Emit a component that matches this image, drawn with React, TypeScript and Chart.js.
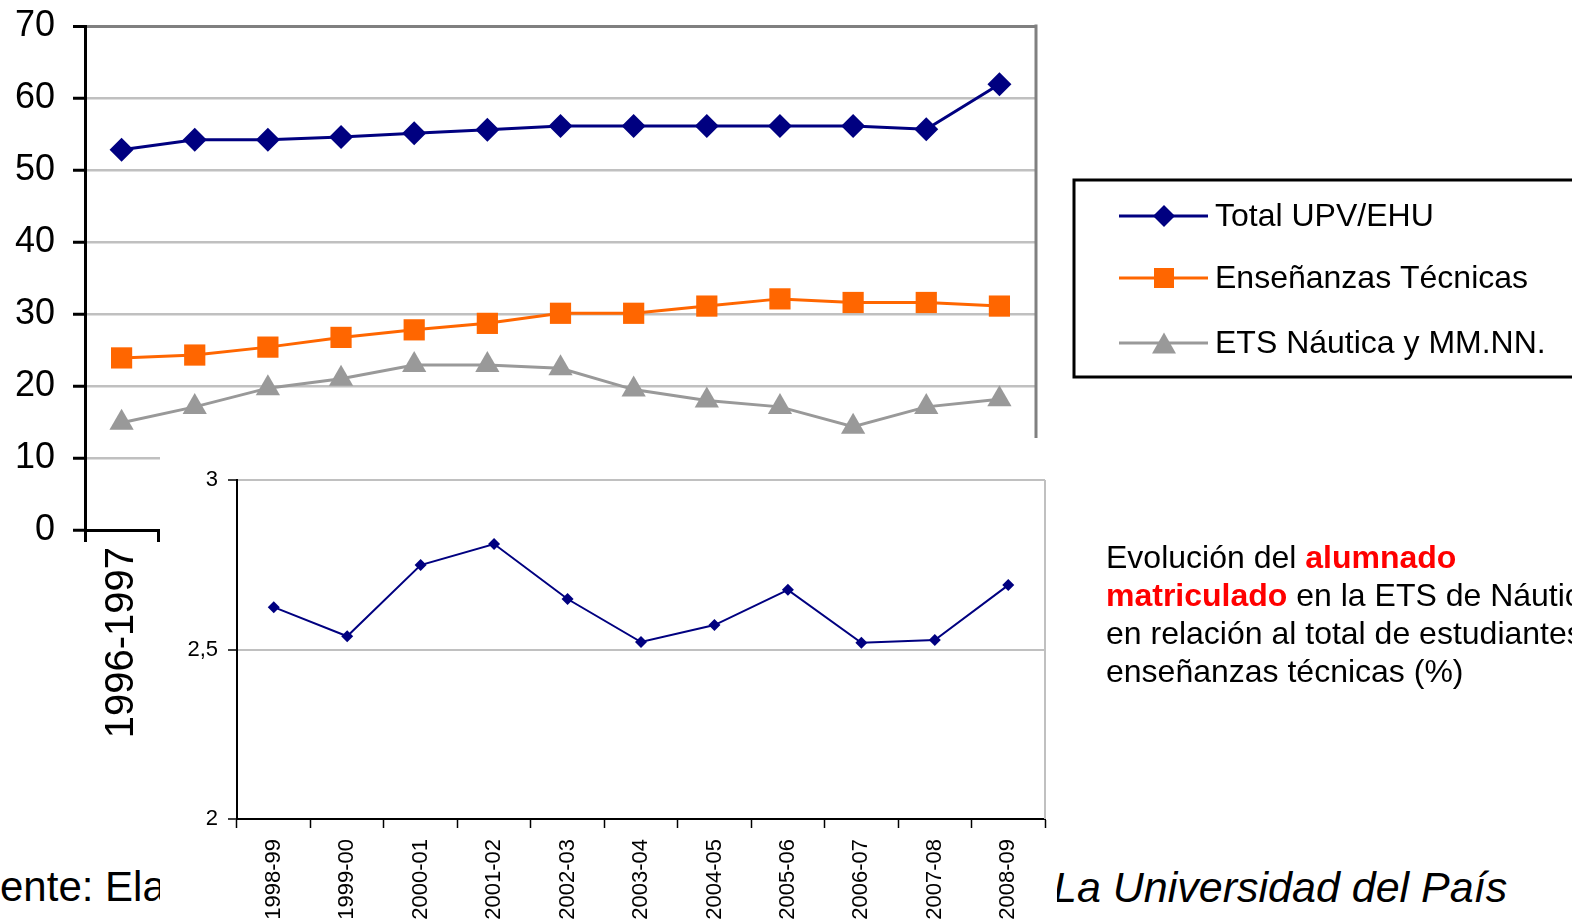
import React, { useEffect, useRef } from 'react';
import { Chart, registerables } from 'chart.js';

Chart.register(...registerables);

// ---------- data ----------
const mainCategories = [
  '1996-1997', '1997-1998', '1998-1999', '1999-2000', '2000-2001', '2001-2002', '2002-2003',
  '2003-2004', '2004-2005', '2005-2006', '2006-2007', '2007-2008', '2008-2009',
];
const totalUPV = [52.8, 54.2, 54.2, 54.6, 55.1, 55.6, 56.1, 56.1, 56.1, 56.1, 56.1, 55.65, 61.9];
const ensTecnicas = [23.9, 24.3, 25.4, 26.75, 27.8, 28.7, 30.1, 30.1, 31.1, 32.1, 31.6, 31.6, 31.1];
const etsNautica = [14.9, 17.1, 19.7, 21.0, 22.9, 22.9, 22.45, 19.5, 18.0, 17.1, 14.35, 17.1, 18.15];
const seriesLabels = ['Total UPV/EHU', 'Enseñanzas Técnicas', 'ETS Náutica y MM.NN.'];
const mainYMin = 0;
const mainYMax = 70;
const mainYStep = 10;

const insetCategories = [
  '1998-99', '1999-00', '2000-01', '2001-02', '2002-03', '2003-04',
  '2004-05', '2005-06', '2006-07', '2007-08', '2008-09',
];
const insetShare = [2.625, 2.539, 2.749, 2.811, 2.649, 2.522, 2.572, 2.676, 2.52, 2.528, 2.69];
const insetYMin = 2;
const insetYMax = 3;
const insetYStep = 0.5;

const FONT = '"Liberation Sans", Arial, Helvetica, sans-serif';

function drawMarker(ctx: CanvasRenderingContext2D, style: string, x: number, y: number, size: number, color: string) {
  ctx.save();
  ctx.fillStyle = color;
  ctx.beginPath();
  if (style === 'rectRot') {
    ctx.moveTo(x, y - size);
    ctx.lineTo(x + size, y);
    ctx.lineTo(x, y + size);
    ctx.lineTo(x - size, y);
  } else if (style === 'rect') {
    ctx.rect(x - size, y - size, size * 2, size * 2);
  } else {
    const h = size * 1.73 / 2;
    ctx.moveTo(x, y - h);
    ctx.lineTo(x + size, y + h);
    ctx.lineTo(x - size, y + h);
  }
  ctx.closePath();
  ctx.fill();
  ctx.restore();
}

const mainPlugin = {
  id: 'mainDecor',
  beforeDatasetsDraw(chart: any) {
    const { ctx, chartArea } = chart;
    ctx.save();
    ctx.strokeStyle = '#808080';
    ctx.lineWidth = 3;
    ctx.beginPath();
    ctx.moveTo(chartArea.right, chartArea.top - 1.5);
    ctx.lineTo(chartArea.right, chartArea.bottom);
    ctx.stroke();
    ctx.restore();
  },
  afterDraw(chart: any) {
    const ctx: CanvasRenderingContext2D = chart.ctx;
    ctx.save();
    // legend box
    ctx.strokeStyle = '#000000';
    ctx.lineWidth = 3;
    ctx.strokeRect(1074, 180, 700, 197);
    const rows = [216, 278, 343];
    const sizes = [11, 10, 12];
    chart.data.datasets.forEach((ds: any, i: number) => {
      const y = rows[i];
      ctx.strokeStyle = ds.borderColor;
      ctx.lineWidth = 3;
      ctx.beginPath();
      ctx.moveTo(1119, y);
      ctx.lineTo(1208, y);
      ctx.stroke();
      drawMarker(ctx, ds.pointStyle, 1164, y, sizes[i], ds.backgroundColor);
      ctx.fillStyle = '#000000';
      ctx.font = `32px ${FONT}`;
      ctx.textBaseline = 'middle';
      ctx.textAlign = 'left';
      ctx.fillText(ds.label, 1215, y + 1);
    });
    ctx.restore();
  },
};

const insetPlugin = {
  id: 'insetDecor',
  beforeDatasetsDraw(chart: any) {
    const { ctx, chartArea } = chart;
    ctx.save();
    ctx.strokeStyle = '#c0c0c0';
    ctx.lineWidth = 2;
    ctx.beginPath();
    ctx.moveTo(chartArea.right, chartArea.top);
    ctx.lineTo(chartArea.right, chartArea.bottom);
    ctx.stroke();
    ctx.restore();
  },
};

export default function App() {
  const mainRef = useRef<HTMLCanvasElement | null>(null);
  const insetRef = useRef<HTMLCanvasElement | null>(null);

  useEffect(() => {
    document.body.style.margin = '0';
    const main = new Chart(mainRef.current as HTMLCanvasElement, {
      type: 'line',
      data: {
        labels: mainCategories,
        datasets: [
          {
            label: seriesLabels[0],
            data: totalUPV,
            borderColor: '#000080',
            backgroundColor: '#000080',
            borderWidth: 3,
            pointStyle: 'rectRot',
            pointRadius: 12,
            pointBorderWidth: 0,
            pointBackgroundColor: '#000080',
          },
          {
            label: seriesLabels[1],
            data: ensTecnicas,
            borderColor: '#ff6600',
            backgroundColor: '#ff6600',
            borderWidth: 3,
            pointStyle: 'rect',
            pointRadius: 15,
            pointBorderWidth: 0,
            pointBackgroundColor: '#ff6600',
          },
          {
            label: seriesLabels[2],
            data: etsNautica,
            borderColor: '#999999',
            backgroundColor: '#999999',
            borderWidth: 3,
            pointStyle: 'triangle',
            pointRadius: 14,
            pointBorderWidth: 0,
            pointBackgroundColor: '#999999',
          },
        ],
      },
      options: {
        responsive: false,
        animation: false,
        events: [],
        layout: { padding: { top: 26, right: 1572 - 1036, left: 0, bottom: 0 } },
        plugins: { legend: { display: false }, tooltip: { enabled: false } },
        scales: {
          x: {
            type: 'category',
            offset: true,
            afterFit(scale: any) { scale.height = 924 - 530; },
            grid: {
              offset: true,
              drawOnChartArea: false,
              drawTicks: true,
              tickLength: 12,
              tickColor: '#000000',
              tickWidth: 3,
            },
            border: { color: '#000000', width: 3 },
            ticks: {
              color: '#000000',
              font: { family: FONT, size: 40 },
              maxRotation: 90,
              minRotation: 90,
              autoSkip: false,
              padding: 5,
            },
          },
          y: {
            min: mainYMin,
            max: mainYMax,
            afterFit(scale: any) {
              scale.width = 85;
              scale.paddingTop = 0;
              scale.paddingBottom = 0;
            },
            ticks: {
              stepSize: mainYStep,
              color: '#000000',
              font: { family: FONT, size: 36 },
              padding: 18,
            },
            grid: {
              color: (c: any) => (c.tick && c.tick.value === mainYMax ? '#808080' : '#c0c0c0'),
              lineWidth: (c: any) => (c.tick && c.tick.value === mainYMax ? 3 : 2.5),
              tickLength: 12,
              tickColor: '#000000',
              tickWidth: 3,
            },
            border: { color: '#000000', width: 3 },
          },
        },
      },
      plugins: [mainPlugin],
    } as any);

    const inset = new Chart(insetRef.current as HTMLCanvasElement, {
      type: 'line',
      data: {
        labels: insetCategories,
        datasets: [
          {
            label: 'ETS Náutica / Enseñanzas Técnicas (%)',
            data: insetShare,
            borderColor: '#000080',
            backgroundColor: '#000080',
            borderWidth: 2,
            pointStyle: 'rectRot',
            pointRadius: 6,
            pointBorderWidth: 0,
            pointBackgroundColor: '#000080',
          },
        ],
      },
      options: {
        responsive: false,
        animation: false,
        events: [],
        layout: { padding: { top: 42, right: 897 - (1045 - 160), left: 0, bottom: 0 } },
        plugins: { legend: { display: false }, tooltip: { enabled: false } },
        scales: {
          x: {
            type: 'category',
            offset: true,
            afterFit(scale: any) { scale.height = 486 - (819 - 438); },
            grid: {
              offset: true,
              drawOnChartArea: false,
              tickLength: 9,
              tickColor: '#000000',
              tickWidth: 1.5,
            },
            border: { color: '#000000', width: 2 },
            ticks: {
              color: '#000000',
              font: { family: FONT, size: 22 },
              maxRotation: 90,
              minRotation: 90,
              autoSkip: false,
              padding: 11,
            },
          },
          y: {
            min: insetYMin,
            max: insetYMax,
            afterFit(scale: any) {
              scale.width = 237 - 160;
              scale.paddingTop = 0;
              scale.paddingBottom = 0;
            },
            ticks: {
              stepSize: insetYStep,
              color: '#000000',
              font: { family: FONT, size: 22 },
              padding: 10,
              callback: (v: any) => String(v).replace('.', ','),
            },
            grid: {
              color: '#c0c0c0',
              lineWidth: 2,
              tickLength: 9,
              tickColor: '#000000',
              tickWidth: 1.5,
            },
            border: { color: '#000000', width: 2 },
          },
        },
      },
      plugins: [insetPlugin],
    } as any);

    return () => {
      main.destroy();
      inset.destroy();
    };
  }, []);

  return (
    <div
      style={{
        position: 'absolute',
        left: 0,
        top: 0,
        width: 1572,
        height: 924,
        overflow: 'hidden',
        background: '#ffffff',
        fontFamily: FONT,
        color: '#000000',
      }}
    >
      <div style={{ position: 'absolute', left: 0, top: 866, fontSize: 42, lineHeight: '42px', whiteSpace: 'nowrap' }}>
        ente: Ela
      </div>
      <div
        style={{
          position: 'absolute',
          left: 1053,
          top: 866,
          fontSize: 43,
          lineHeight: '42px',
          fontStyle: 'italic',
          whiteSpace: 'nowrap',
        }}
      >
        La Universidad del País
      </div>
      <canvas
        ref={mainRef}
        width={1572}
        height={924}
        style={{ position: 'absolute', left: 0, top: 0, width: 1572, height: 924, zIndex: 1 }}
      />
      <canvas
        ref={insetRef}
        width={897}
        height={486}
        style={{
          position: 'absolute',
          left: 160,
          top: 438,
          width: 897,
          height: 486,
          zIndex: 2,
          background: '#ffffff',
        }}
      />
      <div
        style={{
          position: 'absolute',
          left: 1106,
          top: 538,
          fontSize: 32,
          lineHeight: '38px',
          whiteSpace: 'nowrap',
          zIndex: 3,
        }}
      >
        <div>
          Evolución del <b style={{ color: '#ff0000' }}>alumnado</b>
        </div>
        <div>
          <b style={{ color: '#ff0000' }}>matriculado</b> en la ETS de Náutica
        </div>
        <div>en relación al total de estudiantes de</div>
        <div>enseñanzas técnicas (%)</div>
      </div>
    </div>
  );
}
